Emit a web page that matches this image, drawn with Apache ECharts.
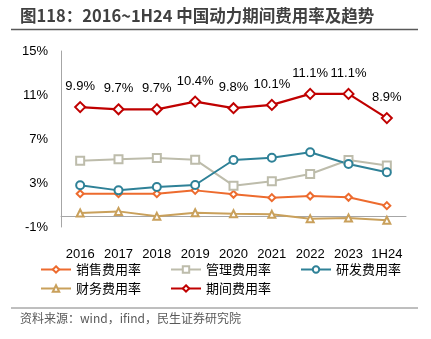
<!DOCTYPE html>
<html>
<head>
<meta charset="utf-8">
<script src="https://cdn.jsdelivr.net/npm/echarts@6/dist/echarts.min.js"></script>
<style>
  html, body { margin: 0; padding: 0; background: #fff; }
  #chart { width: 431px; height: 339px; }
</style>
</head>
<body>
<div id="chart"></div>
<script>
// Expense ratios of China Power (%), 2016 – 1H24
const categories = ['2016', '2017', '2018', '2019', '2020', '2021', '2022', '2023', '1H24'];
const salesRate   = [2.03, 2.03, 2.03, 2.33, 1.97, 1.67, 1.82, 1.70, 0.94];
const adminRate   = [5.03, 5.15, 5.27, 5.12, 2.76, 3.15, 3.82, 5.09, 4.60];
const rdRate      = [2.79, 2.33, 2.64, 2.82, 5.09, 5.30, 5.79, 4.73, 3.97];
const financeRate = [0.27, 0.42, -0.03, 0.30, 0.21, 0.15, -0.24, -0.18, -0.39];
const periodRate  = [9.9, 9.7, 9.7, 10.4, 9.8, 10.1, 11.1, 11.1, 8.9];

const seriesNames = ['销售费用率', '管理费用率', '研发费用率', '财务费用率', '期间费用率'];
const yTicks = { min: -1, max: 15, interval: 4 };

const FONT = '"Liberation Sans", "Noto Sans CJK SC", sans-serif';
const CJK = '"Noto Sans CJK SC", sans-serif';

function lineSeries(name, data, color, symbol, size, extra) {
  return Object.assign({
    name: name,
    type: 'line',
    data: data,
    symbol: symbol,
    symbolSize: size,
    showSymbol: true,
    lineStyle: { color: color, width: 2 },
    itemStyle: { color: color, borderColor: color, borderWidth: 1.3 },
    emphasis: { disabled: true },
    animation: false
  }, extra || {});
}

const chart = echarts.init(document.getElementById('chart'), null, { renderer: 'canvas' });

const legendText = { fontFamily: CJK, fontSize: 13, color: '#000' };

chart.setOption({
  animation: false,
  grid: { left: 61, right: 25, top: 51, bottom: 112, containLabel: false },
  xAxis: {
    type: 'category',
    data: categories,
    boundaryGap: true,
    axisLine: { show: true, onZero: true, lineStyle: { color: '#A6A6A6', width: 1 } },
    axisTick: { show: false },
    axisLabel: { interval: 0, fontFamily: FONT, fontSize: 13, color: '#000', margin: 21 }
  },
  yAxis: {
    type: 'value',
    min: yTicks.min,
    max: yTicks.max,
    interval: yTicks.interval,
    axisLine: { show: true, lineStyle: { color: '#A6A6A6', width: 1 } },
    axisTick: { show: false },
    splitLine: { show: false },
    axisLabel: { fontFamily: FONT, fontSize: 13, color: '#000', margin: 13, formatter: '{value}%' }
  },
  legend: [
    {
      data: seriesNames.slice(0, 3),
      left: 35, top: 258, orient: 'horizontal',
      itemWidth: 30, itemHeight: 8, itemGap: 29,
      textStyle: legendText
    },
    {
      data: seriesNames.slice(3),
      left: 35, top: 277, orient: 'horizontal',
      itemWidth: 30, itemHeight: 8, itemGap: 29,
      textStyle: legendText
    }
  ],
  series: [
    lineSeries(seriesNames[0], salesRate, '#ED6B2E', 'emptyDiamond', 7),
    lineSeries(seriesNames[1], adminRate, '#BDBCAB', 'emptyRect', 8),
    lineSeries(seriesNames[2], rdRate, '#2E8197', 'emptyCircle', 8),
    lineSeries(seriesNames[3], financeRate, '#C9A05B', 'emptyTriangle', 7),
    lineSeries(seriesNames[4], periodRate, '#C00000', 'emptyDiamond', 10, {
      z: 5,
      lineStyle: { color: '#C00000', width: 2.2 },
      label: {
        show: true,
        position: 'top',
        distance: 8,
        fontFamily: FONT,
        fontSize: 13,
        color: '#000',
        formatter: function (p) { return p.value.toFixed(1) + '%'; }
      }
    })
  ],
  graphic: [
    {
      type: 'text', left: 20, top: 7,
      style: {
        text: '图118：2016~1H24 中国动力期间费用率及趋势',
        font: 'bold 16.5px ' + CJK,
        fill: '#404040'
      }
    },
    {
      type: 'line',
      shape: { x1: 11, y1: 29.5, x2: 418, y2: 29.5 },
      style: { stroke: '#595959', lineWidth: 1.5 }
    },
    {
      type: 'line',
      shape: { x1: 11, y1: 308, x2: 418, y2: 308 },
      style: { stroke: '#7F7F7F', lineWidth: 1 }
    },
    {
      type: 'text', left: 20, top: 312,
      style: {
        text: '资料来源：wind，ifind，民生证券研究院',
        font: '12px ' + CJK,
        fill: '#595959'
      }
    }
  ]
});
</script>
</body>
</html>
